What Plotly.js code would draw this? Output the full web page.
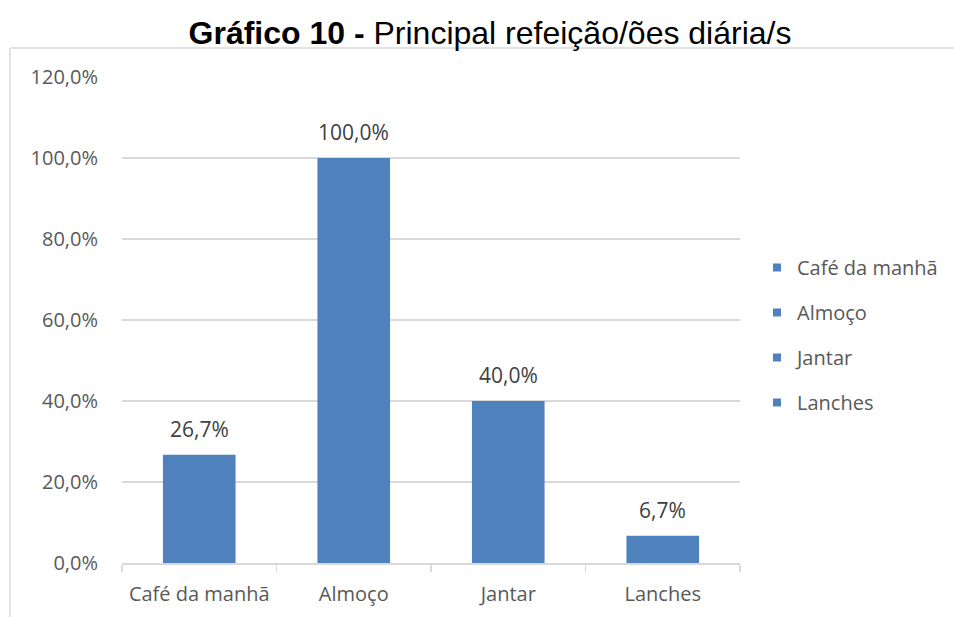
<!DOCTYPE html>
<html>
<head>
<meta charset="utf-8">
<script src="https://cdn.plot.ly/plotly-3.0.1.min.js"></script>
<style>html,body{margin:0;padding:0;background:#fff;}#chart{width:954px;height:617px;}</style>
</head>
<body>
<div id="chart"></div>
<script>
var categories = ["Café da manhã", "Almoço", "Jantar", "Lanches"];
var values = [26.7, 100.0, 40.0, 6.7];
var yTicks = [0, 20, 40, 60, 80, 100, 120];

function pct(v) { return v.toFixed(1).replace(".", ",") + "%"; }

var barColor = "#4F81BD";
var traces = categories.map(function (c, i) {
  return {
    type: "bar",
    x: [c],
    y: [values[i]],
    name: c,
    legendgroup: "g" + i,
    showlegend: false,
    marker: { color: barColor },
    width: 0.47,
    hoverinfo: "x+y"
  };
});
// legend entries (small squares, as in the reference)
categories.forEach(function (c, i) {
  traces.push({
    type: "scatter", mode: "markers",
    x: [null], y: [null],
    name: c, legendgroup: "g" + i, showlegend: true,
    marker: { symbol: "square", size: 8, color: barColor }
  });
});

var annotations = categories.map(function (c, i) {
  return {
    x: c, y: values[i], xref: "x", yref: "y",
    text: pct(values[i]),
    showarrow: false, yanchor: "bottom", yshift: 10,
    font: { family: "Open Sans", size: 21, color: "#404040" }
  };
});

var layout = {
  width: 954, height: 617,
  margin: { l: 122, r: 214, t: 77, b: 54 },
  paper_bgcolor: "#fff", plot_bgcolor: "#fff",
  separators: ", ",
  barmode: "overlay",
  title: {
    text: "<b>Gráfico 10 -</b> Principal refeição/ões diária/s",
    font: { family: "Liberation Sans, Arial", size: 32, color: "#000" },
    x: 490 / 954, xref: "container", xanchor: "center",
    y: 1 - 33 / 617, yref: "container", yanchor: "middle"
  },
  xaxis: {
    type: "category",
    categoryorder: "array", categoryarray: categories,
    showline: true, linecolor: "#d9d9d9", linewidth: 1.5,
    ticks: "outside", tickson: "boundaries", ticklen: 7, tickcolor: "#d9d9d9", tickwidth: 1.5,
    tickfont: { family: "Open Sans", size: 20, color: "#595959" },
    tickangle: 0,
    ticklabelstandoff: 12,
    showgrid: false, zeroline: false, fixedrange: true
  },
  yaxis: {
    range: [0, 120], tickmode: "array", tickvals: yTicks, ticktext: yTicks.map(pct),
    showgrid: true, gridcolor: "#d9d9d9", gridwidth: 1.5,
    zeroline: false, showline: false, ticks: "",
    ticklabelstandoff: 23,
    tickfont: { family: "Open Sans", size: 20, color: "#595959" },
    fixedrange: true
  },
  showlegend: true,
  legend: {
    xref: "container", yref: "container",
    x: 757 / 954, y: 1 - 248 / 617, xanchor: "left", yanchor: "top",
    font: { family: "Open Sans", size: 20, color: "#595959" },
    tracegroupgap: 16, bgcolor: "rgba(0,0,0,0)", itemwidth: 30
  },
  annotations: annotations,
  shapes: [
    { type: "line", xref: "paper", yref: "paper", x0: (10 - 122) / 618, x1: (10 - 122) / 618, y0: (563 - 48) / 486, y1: -0.2, line: { color: "#d9d9d9", width: 1.5 } },
    { type: "line", xref: "paper", yref: "paper", x0: (10 - 122) / 618, x1: 1.5, y0: (563 - 48) / 486, y1: (563 - 48) / 486, line: { color: "#d9d9d9", width: 1.5 } }
  ]
};

Plotly.newPlot("chart", traces, layout, { displayModeBar: false, staticPlot: true });
</script>
</body>
</html>
